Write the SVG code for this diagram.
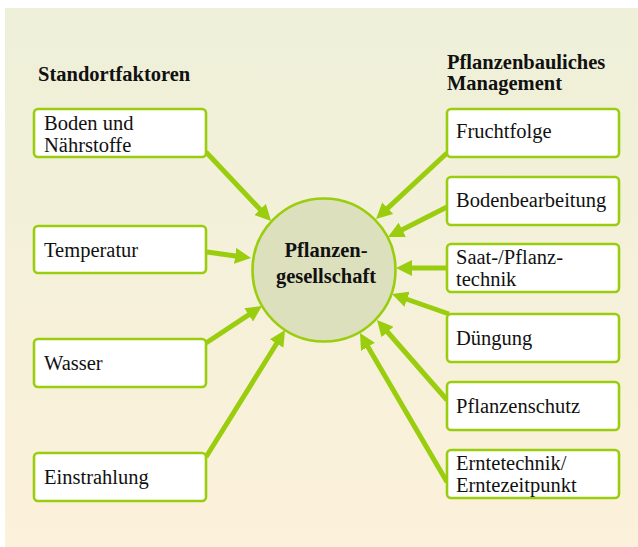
<svg xmlns="http://www.w3.org/2000/svg" width="638" height="547" viewBox="0 0 638 547" font-family="'Liberation Serif', 'Times New Roman', Times, serif">
<defs>
<linearGradient id="bg" x1="0" y1="0" x2="0" y2="1">
<stop offset="0" stop-color="#eef0d9"/>
<stop offset="1" stop-color="#fcf1da"/>
</linearGradient>
<marker id="ah" markerUnits="userSpaceOnUse" markerWidth="16" markerHeight="16" refX="4" refY="8" orient="auto">
<path d="M0,0 L16,8 L0,16 z" fill="#9acd0e"/>
</marker>
<style>
.box{fill:#ffffff;stroke:#9acd0e;stroke-width:2.6}
.t{font-family:'Liberation Serif','Times New Roman',Times,serif;font-size:20.5px;fill:#111}
.h{font-family:'Liberation Serif','Times New Roman',Times,serif;font-size:20.5px;font-weight:bold;fill:#111}
.c{stroke:#9acd0e;stroke-width:5;fill:none;marker-end:url(#ah)}
</style>
</defs>
<rect x="5" y="8" width="633" height="539" fill="url(#bg)"/>
<text class="h" x="38" y="81">Standortfaktoren</text>
<text class="h" x="447" y="69">Pflanzenbauliches</text>
<text class="h" x="447" y="90">Management</text>
<g id="connectors">
<line class="c" x1="206" y1="152" x2="262.8" y2="212.3"/>
<line class="c" x1="207" y1="252" x2="239.1" y2="256.4"/>
<line class="c" x1="206" y1="343" x2="252.0" y2="312.6"/>
<line class="c" x1="206" y1="457" x2="278.7" y2="340.2"/>
<line class="c" x1="447" y1="153" x2="384.8" y2="210.8"/>
<line class="c" x1="447" y1="207" x2="398.7" y2="231.6"/>
<line class="c" x1="447" y1="268" x2="408" y2="268"/>
<line class="c" x1="449" y1="314" x2="403.3" y2="298.0"/>
<line class="c" x1="447" y1="400" x2="384.9" y2="329.0"/>
<line class="c" x1="447" y1="482" x2="366.0" y2="343.4"/>
</g>
<g id="center">
<circle cx="324" cy="270" r="71.5" fill="#dde0bc" stroke="#9acd0e" stroke-width="2.6"/>
<text class="h" x="326" y="257" text-anchor="middle">Pflanzen-</text>
<text class="h" x="326" y="283" text-anchor="middle">gesellschaft</text>
</g>
<g id="boden">
<rect class="box" x="34" y="109" width="172" height="48" rx="4"/>
<text class="t" x="44" y="130">Boden und</text>
<text class="t" x="44" y="151.5">Nährstoffe</text>
</g>
<g id="temperatur">
<rect class="box" x="34" y="226" width="172" height="47" rx="4"/>
<text class="t" x="44" y="257">Temperatur</text>
</g>
<g id="wasser">
<rect class="box" x="34" y="339" width="172" height="48" rx="4"/>
<text class="t" x="44" y="370">Wasser</text>
</g>
<g id="einstrahlung">
<rect class="box" x="34" y="453" width="172" height="48" rx="4"/>
<text class="t" x="44" y="484">Einstrahlung</text>
</g>
<g id="fruchtfolge">
<rect class="box" x="447" y="109" width="172" height="48" rx="4"/>
<text class="t" x="456" y="138">Fruchtfolge</text>
</g>
<g id="bodenbearbeitung">
<rect class="box" x="447" y="177" width="172" height="48" rx="4"/>
<text class="t" x="456" y="207">Bodenbearbeitung</text>
</g>
<g id="saat">
<rect class="box" x="447" y="244" width="172" height="48" rx="4"/>
<text class="t" x="456" y="264">Saat-/Pflanz-</text>
<text class="t" x="456" y="285.5">technik</text>
</g>
<g id="duengung">
<rect class="box" x="447" y="314" width="172" height="48" rx="4"/>
<text class="t" x="456" y="345">Düngung</text>
</g>
<g id="pflanzenschutz">
<rect class="box" x="447" y="382" width="172" height="48" rx="4"/>
<text class="t" x="456" y="413">Pflanzenschutz</text>
</g>
<g id="ernte">
<rect class="box" x="447" y="450" width="172" height="48" rx="4"/>
<text class="t" x="456" y="470">Erntetechnik/</text>
<text class="t" x="456" y="491.5">Erntezeitpunkt</text>
</g>
</svg>
